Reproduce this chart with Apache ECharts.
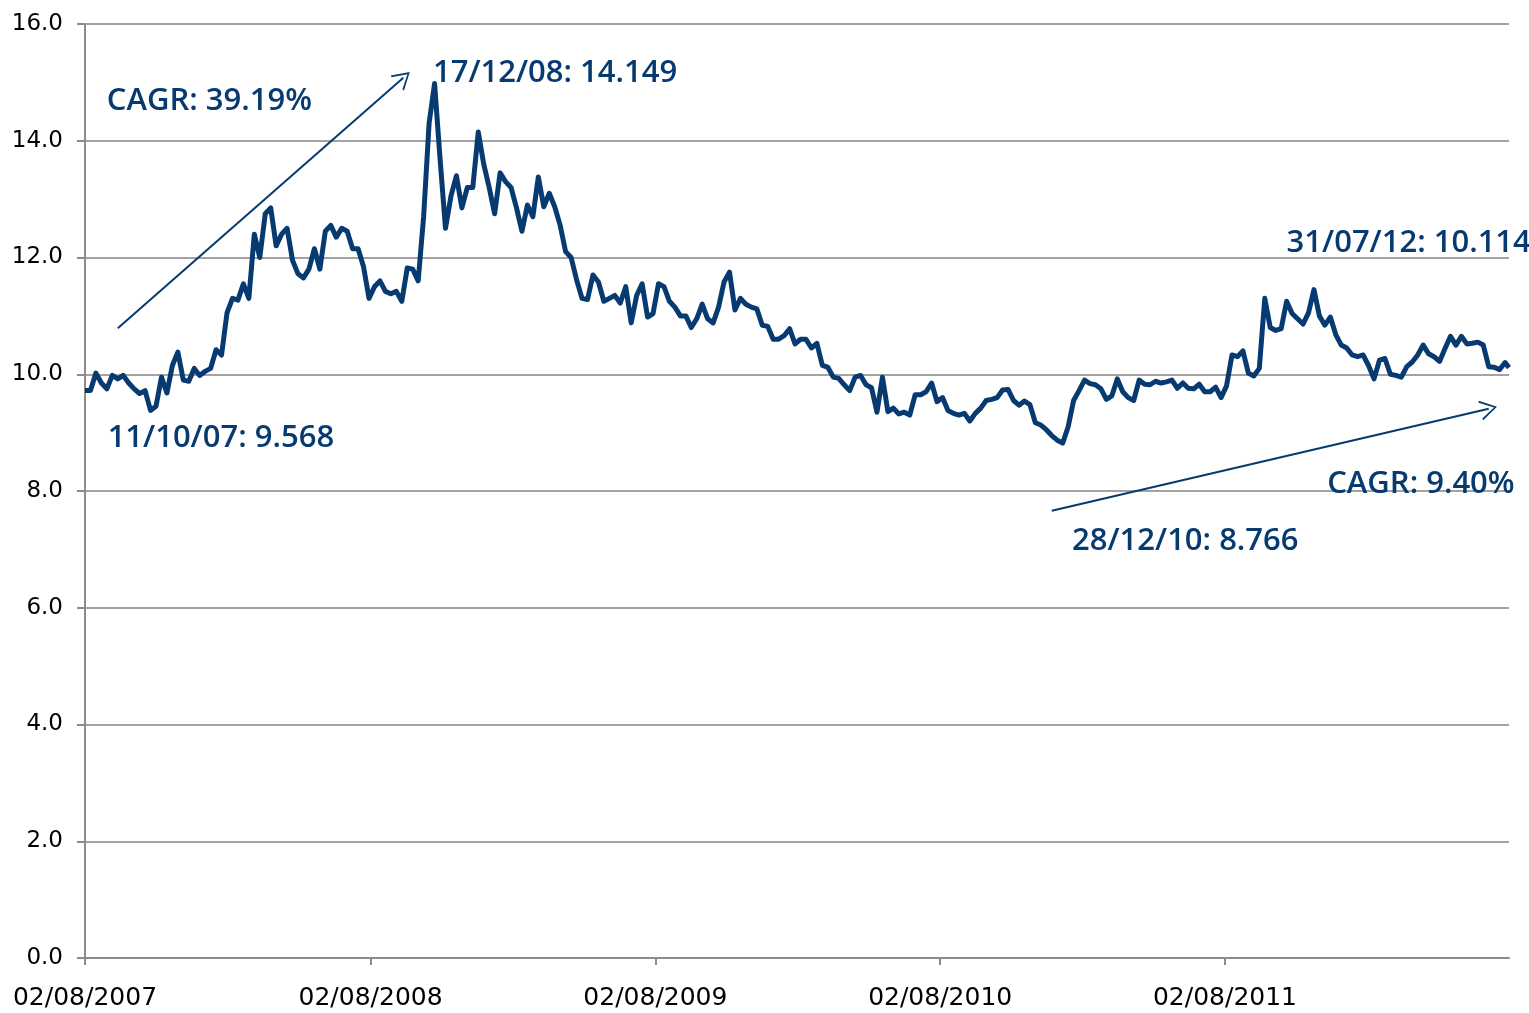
<!DOCTYPE html>
<html>
<head>
<meta charset="utf-8">
<title>NAV 2007-2012</title>
<script src="https://cdn.jsdelivr.net/npm/echarts@6/dist/echarts.min.js"></script>
<style>
  html, body { margin: 0; padding: 0; background: #fff; }
  #chart { width: 1529px; height: 1013px; }
</style>
</head>
<body>
<div id="chart"></div>
<script>
// weekly closes, first one on startDate
const startDate = "2007-08-02";
const stepDays = 7;
const weeklyValues = [
  9.72, 9.72, 10.02, 9.85, 9.75, 9.98, 9.92, 9.98, 9.85, 9.75,
  9.67, 9.72, 9.38, 9.45, 9.95, 9.68, 10.15, 10.38, 9.9, 9.88,
  10.1, 9.98, 10.05, 10.1, 10.42, 10.33, 11.05, 11.3, 11.27, 11.55,
  11.3, 12.4, 12.0, 12.75, 12.85, 12.2, 12.4, 12.5, 11.95, 11.72,
  11.65, 11.8, 12.15, 11.8, 12.45, 12.55, 12.35, 12.5, 12.45, 12.15,
  12.15, 11.84, 11.3, 11.5, 11.6, 11.42, 11.38, 11.42, 11.25, 11.82,
  11.8, 11.6, 12.7, 14.3, 14.98, 13.7, 12.5, 13.05, 13.4, 12.85,
  13.2, 13.2, 14.15, 13.6, 13.2, 12.75, 13.45, 13.3, 13.2, 12.85,
  12.45, 12.9, 12.7, 13.38, 12.87, 13.1, 12.87, 12.55, 12.1, 12.0,
  11.62, 11.3, 11.28, 11.7, 11.58, 11.25, 11.3, 11.35, 11.22, 11.5,
  10.88, 11.35, 11.55, 10.98, 11.04, 11.55, 11.5, 11.25, 11.15, 11.0,
  11.0, 10.8, 10.95, 11.2, 10.95, 10.88, 11.15, 11.58, 11.75, 11.1,
  11.3, 11.2, 11.15, 11.12, 10.84, 10.82, 10.6, 10.6, 10.66, 10.78,
  10.52, 10.6, 10.6, 10.45, 10.53, 10.15, 10.12, 9.95, 9.93, 9.82,
  9.72, 9.95, 9.98, 9.82, 9.77, 9.35, 9.95, 9.36, 9.42, 9.32,
  9.35, 9.3, 9.65, 9.65, 9.7, 9.85, 9.53, 9.6, 9.38, 9.33,
  9.3, 9.33, 9.2, 9.33, 9.42, 9.55, 9.57, 9.6, 9.73, 9.74,
  9.55, 9.47, 9.54, 9.48, 9.17, 9.13, 9.05, 8.95, 8.87, 8.82,
  9.1, 9.55, 9.72, 9.9, 9.84, 9.82, 9.75, 9.57, 9.63, 9.92,
  9.7, 9.6, 9.55, 9.9, 9.83, 9.82, 9.88, 9.85, 9.87, 9.9,
  9.76, 9.85, 9.76, 9.75, 9.83, 9.7, 9.7, 9.78, 9.6, 9.8,
  10.33, 10.3, 10.4, 10.02, 9.97, 10.1, 11.3, 10.8, 10.75, 10.78,
  11.25, 11.04, 10.95, 10.86, 11.05, 11.45, 11.0, 10.84, 10.98, 10.68,
  10.5, 10.45, 10.33, 10.3, 10.33, 10.15, 9.92, 10.24, 10.27, 10.0,
  9.98, 9.95, 10.13, 10.21, 10.33, 10.5, 10.35, 10.3, 10.22, 10.44,
  10.65, 10.5, 10.65, 10.52, 10.53, 10.55, 10.5, 10.13, 10.12, 10.08,
  10.2
];
const closeDate = "2012-07-31";
const closeValue = 10.114;

const axisEnd = "2012-07-31";
const tickDates = ["2007-08-02", "2008-08-02", "2009-08-02", "2010-08-02", "2011-08-02"];
const tickLabels = ["02/08/2007", "02/08/2008", "02/08/2009", "02/08/2010", "02/08/2011"];

const noteTexts = ["CAGR: 39.19%", "17/12/08: 14.149", "11/10/07: 9.568", "31/07/12: 10.114", "CAGR: 9.40%", "28/12/10: 8.766"];
const noteDates = ["2007-08-30", "2008-10-21", "2007-08-31", "2011-10-20", "2011-12-11", "2011-01-18"];
const noteValues = [14.67, 15.16, 8.91, 12.24, 8.12, 7.14];

const arrowFrom = [["2007-09-13", 10.79], ["2010-12-23", 7.66]];
const arrowTo = [["2008-09-13", 15.08], ["2012-07-05", 9.41]];

const NAVY = "#063a70";
const GREY = "#8c8c8c";
const DAY = 86400000;
const t = (s) => echarts.time.parse(s).getTime();

const t0 = t(startDate);
const lineData = weeklyValues.map((v, i) => [t0 + i * stepDays * DAY, v]);
lineData.push([t(closeDate), closeValue]);
const tickTimes = tickDates.map(t);

const chart = echarts.init(document.getElementById("chart"), null, { renderer: "canvas" });

// x is a plain value axis of timestamps so the ticks can sit on 2 Aug each year
chart.setOption({
  animation: false,
  backgroundColor: "#fff",
  grid: { left: 85, right: 20, top: 24, bottom: 55 },
  xAxis: {
    type: "value",
    min: t0,
    max: t(axisEnd),
    axisLine: { show: true, lineStyle: { color: GREY, width: 2 } },
    axisTick: { show: true, customValues: tickTimes, length: 7, lineStyle: { color: GREY, width: 2 } },
    axisLabel: {
      customValues: tickTimes,
      formatter: (v) => {
        const k = tickTimes.indexOf(v);
        return k >= 0 ? tickLabels[k] : echarts.time.format(v, "{dd}/{MM}/{yyyy}");
      },
      margin: 28,
      color: "#000",
      fontSize: 25,
      fontFamily: "DejaVu Sans"
    },
    splitLine: { show: false }
  },
  yAxis: {
    type: "value",
    min: 0,
    max: 16,
    interval: 2,
    axisLine: { show: true, lineStyle: { color: GREY, width: 2 } },
    axisTick: { show: true, length: 8, lineStyle: { color: GREY, width: 2 } },
    axisLabel: {
      formatter: (v) => v.toFixed(1),
      margin: 22,
      color: "#000",
      fontSize: 23,
      fontFamily: "DejaVu Sans"
    },
    splitLine: { lineStyle: { color: "#a3a3a3", width: 2 } }
  },
  series: [
    {
      type: "line",
      data: lineData,
      showSymbol: false,
      symbol: "none",
      lineStyle: { color: NAVY, width: 5, join: "round" },
      clip: false,
      markLine: {
        silent: true,
        symbol: ["none", "path://M10,0 L20,17 L18.2,17.6 L10,3.2 L1.8,17.6 L0,17 Z"],
        symbolSize: [20, 17],
        label: { show: false },
        lineStyle: { color: NAVY, width: 2, type: "solid" },
        data: arrowFrom.map((from, i) => [
          { coord: [t(from[0]), from[1]] },
          { coord: [t(arrowTo[i][0]), arrowTo[i][1]] }
        ])
      },
      markPoint: {
        silent: true,
        symbol: "circle",
        symbolSize: 0,
        label: {
          show: true,
          position: "right",
          distance: 0,
          formatter: (p) => p.name,
          color: NAVY,
          fontFamily: "Open Sans",
          fontWeight: 600,
          fontSize: 31
        },
        data: noteTexts.map((txt, i) => ({ name: txt, coord: [t(noteDates[i]), noteValues[i]] }))
      }
    }
  ]
});
</script>
</body>
</html>
